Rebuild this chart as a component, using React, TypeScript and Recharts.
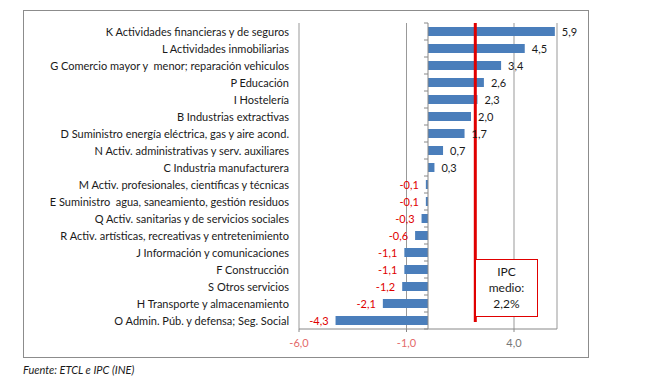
import React from "react";
import {
  BarChart,
  Bar,
  XAxis,
  YAxis,
  CartesianGrid,
  ReferenceLine,
  LabelList,
} from "recharts";

const sectors = [
  "K Actividades financieras y de seguros",
  "L Actividades inmobiliarias",
  "G Comercio mayor y  menor; reparación vehiculos",
  "P Educación",
  "I Hostelería",
  "B Industrias extractivas",
  "D Suministro energía eléctrica, gas y aire acond.",
  "N Activ. administrativas y serv. auxiliares",
  "C Industria manufacturera",
  "M Activ. profesionales, científicas y técnicas",
  "E Suministro  agua, saneamiento, gestión residuos",
  "Q Activ. sanitarias y de servicios sociales",
  "R Activ. artísticas, recreativas y entretenimiento",
  "J Información y comunicaciones",
  "F Construcción",
  "S Otros servicios",
  "H Transporte y almacenamiento",
  "O Admin. Púb. y defensa; Seg. Social",
];

const changes = [5.9, 4.5, 3.4, 2.6, 2.3, 2.0, 1.7, 0.7, 0.3, -0.1, -0.1, -0.3, -0.6, -1.1, -1.1, -1.2, -2.1, -4.3];

const xTicks = [-6, -1, 4];
const ipcMedio = 2.2;

const data = sectors.map((name, i) => ({ name, value: changes[i] }));

const FONT = "Lato, 'Liberation Sans', sans-serif";
const fmt = (v: number) => v.toFixed(1).replace(".", ",");

const CategoryTick = (props: any) => {
  const { y, payload } = props;
  return (
    <text
      x={289}
      y={y}
      dy={4}
      textAnchor="end"
      fontSize={11}
      fill="#1a1a1a"
      fontFamily={FONT}
      style={{ whiteSpace: "pre" }}
    >
      {payload.value}
    </text>
  );
};

const ValueTick = (props: any) => {
  const { x, y, payload } = props;
  const v = payload.value as number;
  return (
    <text x={x} y={y} dy={13} textAnchor="middle" fontSize={11} fill={v < 0 ? "#e46a6a" : "#777"} fontFamily={FONT}>
      {fmt(v)}
    </text>
  );
};

const renderValueLabel = (props: any) => {
  const { x, y, width, height, value } = props;
  const neg = value < 0;
  const end = Number(x) + Number(width);
  return (
    <text
      x={neg ? end - 7 : end + 7}
      y={Number(y) + Number(height) / 2}
      dy={4}
      textAnchor={neg ? "end" : "start"}
      fontSize={11}
      fill={neg ? "#e00000" : "#1a1a1a"}
      fontFamily={FONT}
    >
      {fmt(value)}
    </text>
  );
};

const ZeroAxis = (props: any) => {
  const { x1, y1, y2 } = props;
  const n = sectors.length;
  const step = (y2 - y1) / n;
  return (
    <g>
      <line x1={x1} y1={y1} x2={x1} y2={y2} stroke="#888" strokeWidth={1} />
      {Array.from({ length: n + 1 }, (_, i) => (
        <line key={i} x1={x1 - 4} x2={x1} y1={y1 + i * step} y2={y1 + i * step} stroke="#888" strokeWidth={1} />
      ))}
    </g>
  );
};

const IpcLine = (props: any) => {
  const { x1, y1, y2 } = props;
  return <line x1={x1} x2={x1} y1={y1 - 7} y2={y2} stroke="#e00000" strokeWidth={3} />;
};

export default function App() {
  return (
    <div style={{ position: "absolute", left: 0, top: 0, width: 661, height: 386, background: "#fff" }}>
      <div
        style={{
          position: "absolute",
          left: 23,
          top: 10,
          width: 564,
          height: 346,
          border: "1px solid #8c8c8c",
        }}
      />
      <div style={{ position: "absolute", left: 0, top: 0 }}>
        <BarChart
          layout="vertical"
          width={661}
          height={386}
          data={data}
          margin={{ top: 23, right: 104, left: 0, bottom: 37 }}
        >
          <CartesianGrid horizontal={false} stroke="#999" />
          <XAxis
            type="number"
            domain={[-6, 6]}
            ticks={xTicks}
            height={20}
            axisLine={{ stroke: "#888" }}
            tickLine={{ stroke: "#888" }}
            tickSize={3}
            tick={<ValueTick />}
          />
          <YAxis
            type="category"
            dataKey="name"
            width={299}
            axisLine={false}
            tickLine={false}
            tick={<CategoryTick />}
            interval={0}
          />
          <Bar dataKey="value" fill="#4a7ebb" barSize={9} isAnimationActive={false}>
            <LabelList dataKey="value" content={renderValueLabel} />
          </Bar>
          <ReferenceLine x={0} shape={<ZeroAxis />} />
          <ReferenceLine x={ipcMedio} shape={<IpcLine />} />
        </BarChart>
      </div>
      <div
        style={{
          position: "absolute",
          left: 475,
          top: 259,
          width: 63,
          height: 58,
          border: "1px solid #e00000",
          background: "#fff",
          fontFamily: FONT,
          fontSize: 12,
          lineHeight: "16px",
          color: "#1a1a1a",
          textAlign: "center",
          paddingTop: 4,
          boxSizing: "border-box",
        }}
      >
        IPC
        <br />
        medio:
        <br />
        2,2%
      </div>
      <div
        style={{
          position: "absolute",
          left: 23,
          top: 363,
          fontFamily: FONT,
          fontStyle: "italic",
          fontSize: 11,
          color: "#1a1a1a",
        }}
      >
        Fuente: ETCL e IPC (INE)
      </div>
    </div>
  );
}
